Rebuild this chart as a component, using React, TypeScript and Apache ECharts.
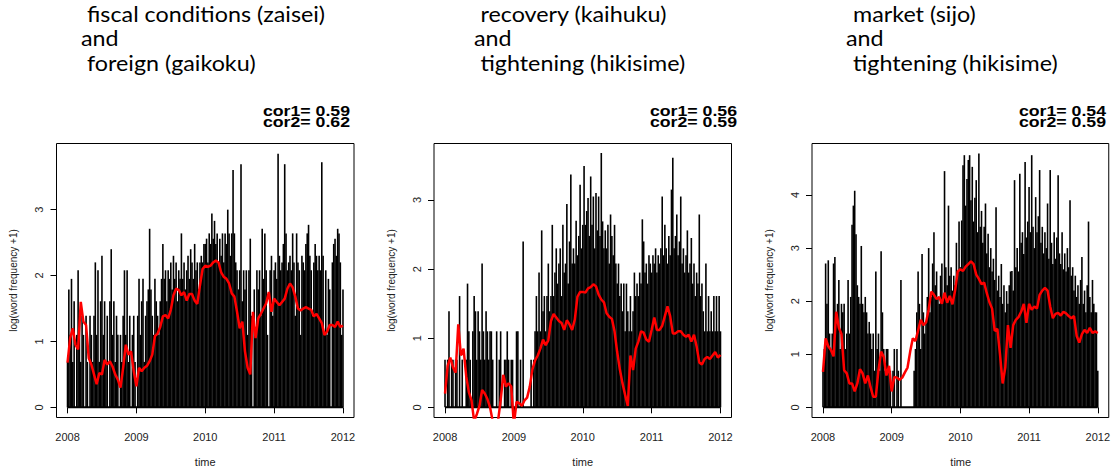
import React, { useEffect, useRef } from "react";
import * as echarts from "echarts";

// ---- data (weekly word-frequency spikes, 2008-01 .. 2012-01) ----
const START_YEAR = 2008;
const END_YEAR = 2012;
const yearTicks = [2008, 2009, 2010, 2011, 2012];

const titles1 = ["fiscal conditions (zaisei)", "and", "foreign (gaikoku)"];
const titles2 = ["recovery (kaihuku)", "and", "tightening (hikisime)"];
const titles3 = ["market (sijo)", "and", "tightening (hikisime)"];
const cors1 = ["cor1= 0.59", "cor2= 0.62"];
const cors2 = ["cor1= 0.56", "cor2= 0.59"];
const cors3 = ["cor1= 0.54", "cor2= 0.59"];

const yTicks1 = [0, 1, 2, 3];
const yTicks2 = [0, 1, 2, 3];
const yTicks3 = [0, 1, 2, 3, 4];

const spikes1 = [
  0.69, 1.79, 1.1, 1.95, 0.69, 1.61, 0, 1.1, 2.08, 1.39, 0.69, 1.39, 1.1,
  0, 1.39, 0.69, 0, 1.39, 1.1, 0.69, 1.39,
  2.2, 1.1, 2.08, 0.69, 1.61, 2.3, 1.1, 1.61, 0.69, 1.39,
  0, 1.61, 2.4, 1.1, 1.61, 0.69, 1.39, 1.1, 0, 1.1,
  0.69, 1.39, 2.08, 1.1, 2.08, 0.69, 1.39, 0, 1.1, 1.39,
  0.69, 0, 1.39, 1.95, 1.1, 1.61, 1.95, 0.69, 1.39, 1.61,
  1.79, 2.71, 1.79, 1.39, 1.1, 1.95, 1.61, 1.39, 1.1, 1.61,
  1.95, 2.48, 1.95, 2.08, 1.61, 2.08, 1.95, 2.2, 1.79, 2.3,
  1.95, 2.2, 1.61, 2.08, 1.95, 2.64, 1.95, 2.2, 1.79, 2.08,
  2.3, 1.95, 2.4, 2.2, 1.95, 2.48, 2.08, 2.2, 1.79, 2.2,
  2.3, 2.2, 2.48, 2.48,
  2.56, 2.2, 2.64, 2.48, 2.94, 2.56, 2.83, 2.48, 2.64, 2.2,
  2.56, 2.3, 2.64, 2.2, 2.64, 2.48, 3.0, 2.64, 2.3, 2.64,
  3.6, 2.64, 2.2, 2.08, 1.79, 2.08, 3.69, 1.61, 2.08, 1.79,
  2.08, 1.1, 2.08, 2.56, 1.39, 0, 1.79, 1.1, 2.08, 1.79,
  2.08, 1.39, 2.71, 1.95, 2.64, 2.08, 1.1, 0, 2.08, 2.3,
  1.39, 2.08, 2.2, 1.95, 3.85, 2.3, 2.08, 2.2, 2.48, 3.69,
  2.64, 2.08, 2.2, 2.3, 2.08, 2.64, 2.2, 1.39, 2.64, 2.2,
  2.08, 1.1, 2.3, 2.2, 2.08, 2.48, 2.64, 2.77, 2.3, 2.08,
  1.39, 2.2, 2.48, 2.3, 2.08, 2.3, 2.08, 3.72, 2.3, 1.1,
  2.08, 1.1, 1.95, 1.79, 0, 2.2, 2.48, 2.56, 2.3, 2.71,
  2.64, 2.2, 1.1, 1.79,
];

const spikes2 = [
  0.69, 0, 0.69, 1.39, 0, 0.69, 0.69, 0, 0.69, 0.69,
  0, 1.61, 0, 0.69, 0, 0, 0.69, 1.79, 1.1, 0.69,
  0, 1.1, 1.61, 1.39, 0.69, 1.39, 1.1, 0.69, 2.08, 1.1,
  0.69, 1.39, 1.1, 0.69, 1.1, 1.1, 0.69, 0, 0, 1.1,
  0, 0.69, 1.1, 0, 0, 0.69, 0.69, 1.1, 0.69, 0,
  0.69, 0.69, 0, 0, 1.1, 1.1, 0, 0.69, 0, 2.4,
  0, 0, 0, 0, 0, 0.69, 0, 0.69, 1.1, 1.61,
  1.1, 1.95, 1.1, 2.56, 1.39, 1.61, 1.1, 1.61, 2.08, 1.39,
  1.61, 2.64, 1.61, 1.95, 2.3, 1.79, 2.08, 2.3, 1.61, 2.64,
  1.95, 2.08, 2.94, 1.79, 2.4, 3.37, 2.08, 2.3, 2.08, 2.7,
  2.2, 2.48, 3.22, 2.3, 2.64,
  3.49, 2.64, 2.84, 3.03, 2.48, 3.34, 2.64, 3.05, 2.3, 3.1,
  2.56, 3.05, 2.48, 3.68, 2.69, 2.3, 2.56, 2.3, 2.64, 2.08,
  2.79, 2.48, 2.2, 2.64, 2.08, 1.79, 2.08, 1.61, 1.79, 1.39,
  1.79, 1.1, 1.79, 1.39, 1.1, 1.61, 1.1, 1.39, 1.95, 1.61,
  1.79, 1.61, 1.95, 1.79, 2.72, 2.4, 1.95, 2.08, 1.79, 2.2,
  2.08, 1.95, 2.2, 2.08, 2.3, 1.95, 2.2, 2.08, 2.3, 3.05,
  2.2, 2.64, 2.3, 2.08, 2.48, 2.2, 3.15, 3.61, 2.3, 2.48,
  2.79, 2.2, 2.4, 3.05, 2.08, 2.3, 1.95, 2.2, 2.56, 1.95,
  2.08, 2.45, 1.79, 2.08, 1.61, 1.95, 1.79, 2.79, 1.61, 1.79,
  1.39, 1.1, 2.08, 1.1, 1.61, 1.1, 1.39, 1.1, 1.61, 1.1,
  1.61, 1.1, 1.61, 1.1,
];

const spikes3 = [
  0.69, 1.1, 2.71, 1.95, 2.77, 1.39, 1.1, 1.39, 2.71, 2.83,
  1.61, 1.95, 2.4, 1.1, 1.95, 1.79, 1.95, 1.1, 1.39, 2.4,
  1.39, 2.08, 3.44, 3.8, 4.08, 3.26, 2.3, 2.08, 1.95, 3.04,
  1.95, 1.79, 2.08, 1.79, 1.39, 1.61, 1.39, 1.1, 1.39, 0.69,
  2.56, 1.1, 1.39, 0.69, 2.94, 1.79, 1.1, 0.69, 1.1, 1.1,
  0.69, 0.69, 0, 0.69, 1.1, 0, 1.1, 0.69, 0, 2.4,
  0, 0, 0, 0, 0, 0, 0, 0, 0, 0.69,
  1.1, 1.79, 2.56, 1.95, 1.1, 2.89, 1.79, 1.39, 1.61, 2.08,
  3.0, 1.79, 2.08, 2.71, 3.3, 2.3, 2.56, 2.08, 1.95, 2.48,
  2.71, 2.08, 4.45, 2.64, 2.3, 3.8, 2.48, 2.64, 2.2, 2.48,
  2.3, 3.1, 2.56, 3.5, 2.64,
  3.52, 4.56, 4.75, 3.8, 4.3, 4.66, 4.75, 3.9, 4.53, 3.5,
  3.95, 4.28, 3.3, 4.78, 3.4, 3.7, 3.1, 3.4, 3.84, 2.9,
  3.27, 2.64, 3.0, 2.56, 2.8, 2.4, 3.77, 2.2, 2.48, 2.08,
  2.7, 1.95, 2.3, 1.79, 2.19, 1.95, 2.3, 2.56, 2.57, 2.2,
  4.28, 2.64, 3.0, 2.56, 4.4, 3.1, 3.3, 2.89, 4.62, 3.2,
  3.5, 4.15, 3.3, 4.75, 3.4, 3.0, 3.96, 3.3, 3.6, 4.47,
  3.1, 3.4, 2.9, 3.3, 3.0, 3.84, 2.8, 4.47, 3.1, 2.7,
  3.3, 2.8, 3.2, 4.37, 2.9, 2.7, 3.3, 2.6, 2.9, 2.56,
  3.0, 2.64, 3.9, 2.48, 2.64, 2.2, 2.48, 2.08, 2.3, 1.95,
  2.4, 2.83, 1.95, 2.2, 1.79, 2.3, 3.5, 2.08, 1.79, 2.4,
  1.95, 1.79, 1.79, 0.69,
];

// ---- smoothed (red) series, bi-weekly ----
const smooth1 = [
  0.68, 1.05, 1.2, 0.95, 0.88, 1.6, 1.3, 1.25, 0.75, 0.65,
  0.5, 0.35, 0.52, 0.5, 0.72, 0.65, 0.7, 0.62, 0.5, 0.42,
  0.3, 0.6, 0.95, 0.8, 0.85, 0.55, 0.32, 0.6, 0.55, 0.6,
  0.63, 0.7, 0.8, 1.08, 1.12, 1.22, 1.38, 1.4, 1.35, 1.48,
  1.7, 1.8, 1.78, 1.7, 1.75, 1.62, 1.72, 1.72, 1.62, 1.57,
  1.85, 2.1, 2.15, 2.13, 2.15, 2.2, 2.23, 2.2, 2.05, 1.98,
  1.95, 1.88, 1.73, 1.68, 1.45, 1.2, 1.3, 0.85, 0.6, 0.5,
  1.45, 1.05, 1.35, 1.42, 1.5, 1.58, 1.75, 1.45, 1.65, 1.6,
  1.55, 1.6, 1.65, 1.8, 1.88, 1.82, 1.68, 1.5, 1.47, 1.5,
  1.52, 1.5, 1.48, 1.38, 1.42, 1.35, 1.28, 1.1, 1.15, 1.25,
  1.25, 1.22, 1.3, 1.22, 1.24,
];

const smooth2 = [
  0.2, 0.6, 0.72, 0.58, 0.5, 1.2, 0.75, 0.85, 0.45, 0.22,
  0.1, -0.2, -0.1, 0.02, 0.25, 0.2, 0.12, 0.0, -0.2, -0.25,
  -0.2, 0.1, 0.47, 0.3, 0.35, 0.3, -0.25, 0.08, 0.06, 0.02,
  0.1, 0.14, 0.3, 0.55, 0.68, 0.75, 0.85, 0.98, 0.9, 0.97,
  1.25, 1.35, 1.3, 1.25, 1.22, 1.12, 1.26, 1.2, 1.12, 1.27,
  1.6, 1.67, 1.67, 1.66, 1.72, 1.74, 1.78, 1.75, 1.63, 1.56,
  1.52, 1.36, 1.31, 1.28, 1.1, 0.8, 0.55, 0.35, 0.18, 0.02,
  0.75, 0.54, 0.85, 0.95, 1.1, 1.08, 0.98, 0.95, 1.12, 1.3,
  1.12, 1.12, 1.18, 1.32, 1.46, 1.32, 1.07, 1.07, 1.1, 1.1,
  1.05, 1.02, 1.05, 0.95, 1.05, 0.88, 0.65, 0.62, 0.7, 0.73,
  0.7, 0.75, 0.8, 0.72, 0.76,
];

const smooth3 = [
  0.67, 1.3, 1.15, 1.08, 0.96, 1.8, 1.5, 1.38, 0.7, 0.64,
  0.45, 0.45, 0.3, 0.45, 0.72, 0.64, 0.45, 0.6, 0.38, 0.2,
  0.2, 0.7, 1.05, 0.95, 0.6, 0.78, 0.3, 0.57, 0.56, 0.52,
  0.56, 0.66, 0.75, 1.05, 1.3, 1.25, 1.45, 1.65, 1.55, 1.6,
  1.85, 2.18, 2.12, 2.04, 2.08, 1.95, 2.16, 1.97, 2.1, 1.94,
  2.2, 2.56, 2.6, 2.57, 2.65, 2.7, 2.75, 2.7, 2.5, 2.42,
  2.32, 2.35, 2.15, 1.98, 1.86, 1.44, 1.48, 1.0, 0.45, 0.75,
  1.55, 1.12, 1.55, 1.65, 1.7, 1.8, 1.95, 1.59, 1.95, 1.84,
  1.9, 1.86, 2.12, 2.2, 2.25, 2.2, 1.9, 1.68, 1.76, 1.78,
  1.73, 1.8, 1.77, 1.72, 1.68, 1.72, 1.35, 1.22, 1.38, 1.46,
  1.4, 1.5, 1.4, 1.43, 1.4,
];

const panels = [
  { spikes: spikes1, smooth: smooth1, titles: titles1, cors: cors1, yTicks: yTicks1, yMin: -0.154, yMax: 4.004,
    left: 56.5, titleX: [87, 81, 87], corRight: 350 },
  { spikes: spikes2, smooth: smooth2, titles: titles2, cors: cors2, yTicks: yTicks2, yMin: -0.147, yMax: 3.817,
    left: 434, titleX: [480.5, 474, 480.5], corRight: 737 },
  { spikes: spikes3, smooth: smooth3, titles: titles3, cors: cors3, yTicks: yTicks3, yMin: -0.191, yMax: 4.97,
    left: 812, titleX: [853, 846, 853], corRight: 1106 },
];

const GRID_TOP = 143.5;
const GRID_H = 274;
const GRID_W = 297.5;
const X_PAD = 0.16;

function toXY(values: number[]) {
  const n = values.length;
  return values.map((v, i) => [START_YEAR + (i * (END_YEAR - START_YEAR)) / (n - 1), v]);
}

const tickFont = "'Liberation Sans', Arial, Helvetica, sans-serif";
const titleFont = "Lato, 'Open Sans', sans-serif";

export default function App() {
  const ref = useRef<HTMLDivElement>(null);
  useEffect(() => {
    if (!ref.current) return;
    const chart = echarts.init(ref.current, null, { renderer: "svg" });
    const grid: any[] = [];
    const xAxis: any[] = [];
    const yAxis: any[] = [];
    const series: any[] = [];
    const graphic: any[] = [];

    panels.forEach((p, k) => {
      grid.push({
        left: p.left, top: GRID_TOP, width: GRID_W, height: GRID_H,
        show: true, borderColor: "#000", borderWidth: 1, backgroundColor: "transparent",
        containLabel: false,
      });
      xAxis.push({
        gridIndex: k, type: "value", min: START_YEAR - X_PAD, max: END_YEAR + X_PAD,
        splitLine: { show: false },
        axisLine: { show: false },
        axisTick: { show: true, inside: false, length: 6, customValues: yearTicks, lineStyle: { color: "#000", width: 1 } },
        axisLabel: {
          customValues: yearTicks, formatter: (v: number) => String(v), fontSize: 11,
          color: "#222", fontFamily: tickFont, margin: 14,
        },
      });
      yAxis.push({
        gridIndex: k, type: "value", min: p.yMin, max: p.yMax,
        splitLine: { show: false },
        axisLine: { show: false },
        axisTick: { show: true, inside: false, length: 6, customValues: p.yTicks, lineStyle: { color: "#000", width: 1 } },
        axisLabel: {
          customValues: p.yTicks, rotate: 90, fontSize: 11, color: "#222",
          fontFamily: tickFont, margin: 12, formatter: (v: number) => String(v),
        },
      });
      series.push({
        type: "bar", xAxisIndex: k, yAxisIndex: k, data: toXY(p.spikes),
        barWidth: 1.6, itemStyle: { color: "#000" }, silent: true,
      });
      series.push({
        type: "line", xAxisIndex: k, yAxisIndex: k,
        data: [[yearTicks[0], 0], [yearTicks[yearTicks.length - 1], 0]],
        showSymbol: false, lineStyle: { color: "#000", width: 2 }, silent: true,
      });
      series.push({
        type: "line", xAxisIndex: k, yAxisIndex: k, data: toXY(p.smooth),
        showSymbol: false, clip: true, lineStyle: { color: "#ff0000", width: 2.5 }, silent: true,
      });

      const centers = [13.5, 38, 62.5];
      p.titles.forEach((t, j) => {
        graphic.push({
          type: "text", x: p.titleX[j], y: centers[j], scaleX: 1.11,
          style: { text: t, fontFamily: titleFont, fontSize: 21, lineHeight: 22, fill: "#000", align: "left", verticalAlign: "middle" },
        });
      });
      const corCenters = [110.5, 121.8];
      p.cors.forEach((t, j) => {
        graphic.push({
          type: "text", x: p.corRight, y: corCenters[j], scaleX: 1.18,
          style: { text: t, fontFamily: tickFont, fontWeight: "bold", fontSize: 15, fill: "#000", align: "right", verticalAlign: "middle" },
        });
      });
      graphic.push({
        type: "text", x: p.left - 43, y: GRID_TOP + GRID_H / 2, rotation: Math.PI / 2,
        style: { text: "log(word frequency +1)", fontFamily: tickFont, fontSize: 10, fill: "#222", align: "center", verticalAlign: "middle" },
      });
      graphic.push({
        type: "text", x: p.left + GRID_W / 2, y: 462,
        style: { text: "time", fontFamily: tickFont, fontSize: 11, fill: "#222", align: "center", verticalAlign: "middle" },
      });
    });

    chart.setOption({
      animation: false,
      backgroundColor: "#fff",
      grid, xAxis, yAxis, series, graphic,
    });
    return () => chart.dispose();
  }, []);

  return (
    <div
      ref={ref}
      style={{ position: "absolute", left: 0, top: 0, width: 1113, height: 472 }}
    />
  );
}
